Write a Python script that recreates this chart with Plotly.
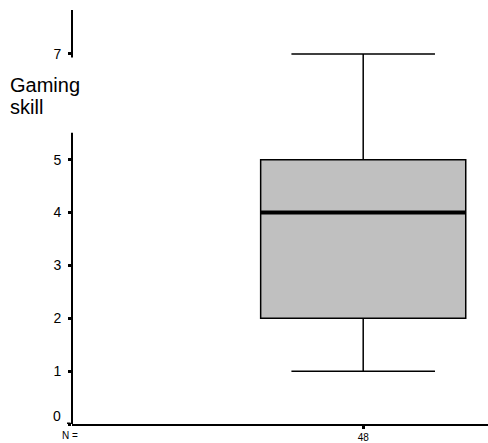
import plotly.graph_objects as go

# Box-plot summary for gaming skill (N = 48)
groups = ["48"]
group_pos = [0.7]
lower_whisker = [1]
q1 = [2]
median = [4]
q3 = [5]
upper_whisker = [7]

y_ticks = [0, 1, 2, 3, 4, 5, 7]
y_tick_text = ["", "1", "2", "3", "4", "5", "7"]

box_width = 0.493
font_family = "Liberation Sans, Arial, sans-serif"

# plot area geometry (pixels) used to place free text
plot_top, plot_h, plot_left, plot_w = 10, 416, 72, 416


def py(pix):
    return (plot_top + plot_h - pix) / plot_h


def px(pix):
    return (pix - plot_left) / plot_w


fig = go.Figure()
fig.add_trace(go.Box(
    x=group_pos,
    q1=q1, median=median, q3=q3,
    lowerfence=lower_whisker, upperfence=upper_whisker,
    width=box_width,
    whiskerwidth=0.7,
    fillcolor="#c0c0c0",
    line=dict(color="black", width=1.5),
    boxpoints=False,
    showlegend=False,
    hoverinfo="skip",
))

shapes = []
# thick median bar
for xp, m in zip(group_pos, median):
    shapes.append(dict(type="line", xref="x", yref="y",
                       x0=xp - box_width / 2, x1=xp + box_width / 2,
                       y0=m, y1=m, line=dict(color="black", width=4)))
# vertical axis drawn in two pieces, broken around the axis title
shapes.append(dict(type="line", xref="paper", yref="y", x0=0, x1=0,
                   y0=0, y1=5.51, line=dict(color="black", width=2)))
shapes.append(dict(type="line", xref="paper", yref="y", x0=0, x1=0,
                   y0=6.93, y1=7.83, line=dict(color="black", width=2)))
# tick mark at zero, just left of the corner
shapes.append(dict(type="line", xref="paper", yref="y", x0=px(67), x1=px(70.5),
                   y0=0, y1=0, line=dict(color="black", width=3)))

title_font = dict(family=font_family, size=20, color="black")
annotations = [
    dict(text="Gaming", xref="paper", yref="paper", x=px(8), y=py(85),
         xanchor="left", yanchor="middle", showarrow=False, font=title_font),
    dict(text="skill", xref="paper", yref="paper", x=px(8), y=py(107),
         xanchor="left", yanchor="middle", showarrow=False, font=title_font),
    dict(text="0", xref="paper", yref="paper", x=px(63), y=py(417.5),
         xanchor="right", yanchor="middle", showarrow=False,
         font=dict(family=font_family, size=14, color="black")),
    dict(text="N =", xref="paper", yref="paper", x=px(69.5), y=py(438),
         xanchor="center", yanchor="middle", showarrow=False,
         font=dict(family=font_family, size=10, color="black")),
]

fig.update_layout(
    width=488, height=443,
    margin=dict(l=72, r=0, t=10, b=17),
    paper_bgcolor="white", plot_bgcolor="white",
    shapes=shapes, annotations=annotations,
    font=dict(family=font_family, color="black"),
    xaxis=dict(range=[0, 1], showgrid=False, zeroline=False,
               showline=True, linecolor="black", linewidth=2,
               tickvals=group_pos, ticktext=groups,
               ticks="outside", ticklen=3, tickwidth=3, tickcolor="black",
               ticklabelstandoff=0,
               tickfont=dict(size=10, family=font_family, color="black")),
    yaxis=dict(range=[0, 7.83], showgrid=False, zeroline=False,
               showline=False,
               tickvals=y_ticks, ticktext=y_tick_text,
               ticks="outside", ticklen=3, tickwidth=3, tickcolor="black",
               ticklabelstandoff=4,
               tickfont=dict(size=14, family=font_family, color="black")),
)

fig.write_html("out.html")
